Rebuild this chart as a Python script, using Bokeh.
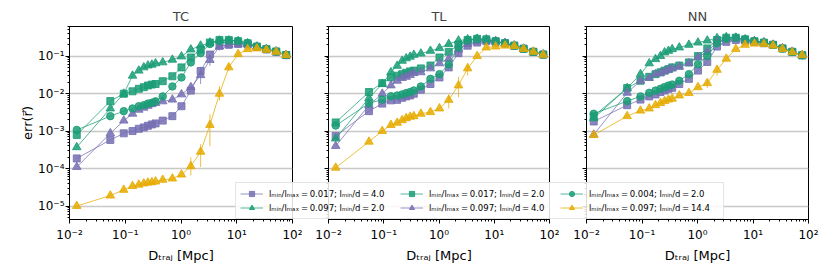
from bokeh.plotting import figure
from bokeh.models import (Range1d, FixedTicker, CustomJSTickFormatter, Legend, LegendItem,
                          ColumnDataSource, GridBox, Spacer)
from bokeh.embed import file_html
from bokeh.resources import INLINE

# ---------------- data ----------------
D_TRAJ = [0.0135, 0.054, 0.094, 0.135, 0.175, 0.215, 0.255, 0.30, 0.35, 0.47, 0.70, 1.02,
          1.5, 2.25, 3.3, 4.9, 7.2, 10.6, 15.7, 23, 34, 51, 77]

PANEL_TITLES = ["TC", "TL", "NN"]

SERIES_KEYS = ["psq", "gtri", "gsq", "ptri", "gcirc", "ytri"]
SERIES_LABELS = [
    "lₘᵢₙ/lₘₐₓ\u2009=\u20090.017; lₘᵢₙ/d\u2009=\u20094.0",
    "lₘᵢₙ/lₘₐₓ\u2009=\u20090.097; lₘᵢₙ/d\u2009=\u20092.0",
    "lₘᵢₙ/lₘₐₓ\u2009=\u20090.017; lₘᵢₙ/d\u2009=\u20092.0",
    "lₘᵢₙ/lₘₐₓ\u2009=\u20090.097; lₘᵢₙ/d\u2009=\u20094.0",
    "lₘᵢₙ/lₘₐₓ\u2009=\u20090.004; lₘᵢₙ/d\u2009=\u20092.0",
    "lₘᵢₙ/lₘₐₓ\u2009=\u20090.097; lₘᵢₙ/d\u2009=\u200914.4",
]
Y_LABEL = "err(r\u20d7)"
X_LABEL = "D\u209c\u1d63\u2090\u2c7c [Mpc]"

TC_PSQ = [1.86e-4, 5.8e-4, 8.7e-4, 1.0e-3, 1.15e-3, 1.25e-3, 1.38e-3, 1.5e-3, 1.6e-3, 1.9e-3, 2.5e-3, 4.6e-3,
          0.012, 0.040, 0.11, 0.19, 0.20, 0.21, 0.205, 0.175, 0.15, 0.13, 0.106]
TC_GTRI = [3.7e-4, 4.0e-3, 9.9e-3, 0.030, 0.041, 0.050, 0.056, 0.059, 0.064, 0.068, 0.080, 0.098,
           0.15, 0.19, 0.23, 0.26, 0.26, 0.25, 0.22, 0.18, 0.155, 0.133, 0.107]
TC_GSQ = [7.9e-4, 6.3e-3, 9.9e-3, 0.0115, 0.0134, 0.0148, 0.0164, 0.0174, 0.018, 0.0214, 0.029, 0.050,
          0.092, 0.15, 0.23, 0.27, 0.27, 0.25, 0.22, 0.18, 0.155, 0.133, 0.107]
TC_PTRI = [1.1e-4, 8.7e-4, 1.9e-3, 2.9e-3, 3.7e-3, 4.2e-3, 4.7e-3, 5.2e-3, 5.6e-3, 6.2e-3, 6.9e-3, 9.5e-3,
           0.0148, 0.031, 0.079, 0.18, 0.20, 0.21, 0.205, 0.175, 0.15, 0.13, 0.106]
TC_GCIRC = [1.07e-3, 2.5e-3, 3.4e-3, 4.0e-3, 4.6e-3, 4.9e-3, 5.4e-3, 5.7e-3, 6.2e-3, 8.4e-3, 0.0155, 0.027,
            0.068, 0.12, 0.21, 0.25, 0.26, 0.25, 0.22, 0.18, 0.155, 0.133, 0.107]
TC_YTRI = [1.0e-5, 1.9e-5, 2.7e-5, 3.4e-5, 3.7e-5, 4.0e-5, 4.2e-5, 4.3e-5, 4.5e-5, 5.0e-5, 5.4e-5, 6.9e-5,
           1.15e-4, 2.8e-4, 1.45e-3, 9.9e-3, 0.050, 0.113, 0.153, 0.16, 0.147, 0.13, 0.106]

TL_PSQ = [7.4e-4, 3.4e-3, 5.4e-3, 6.6e-3, 6.8e-3, 7.7e-3, 8.4e-3, 8.9e-3, 9.9e-3, 0.0127, 0.018, 0.027,
          0.05, 0.12, 0.19, 0.23, 0.25, 0.24, 0.22, 0.19, 0.157, 0.13, 0.11]
TL_GTRI = [6.3e-4, 7.6e-3, 0.018, 0.037, 0.055, 0.075, 0.087, 0.096, 0.108, 0.117, 0.138, 0.163,
           0.21, 0.26, 0.28, 0.29, 0.28, 0.25, 0.22, 0.19, 0.157, 0.13, 0.11]
TL_GSQ = [1.7e-3, 0.011, 0.019, 0.027, 0.030, 0.033, 0.036, 0.039, 0.041, 0.047, 0.056, 0.092,
          0.13, 0.20, 0.27, 0.29, 0.28, 0.25, 0.22, 0.19, 0.157, 0.13, 0.11]
TL_PTRI = [4.0e-4, 4.9e-3, 9.9e-3, 0.0165, 0.022, 0.026, 0.028, 0.031, 0.035, 0.037, 0.047, 0.064,
           0.085, 0.15, 0.21, 0.25, 0.26, 0.25, 0.22, 0.19, 0.157, 0.13, 0.11]
TL_GCIRC = [1.4e-3, 5.5e-3, 6.9e-3, 8.5e-3, 8.9e-3, 9.5e-3, 0.0103, 0.011, 0.0121, 0.0155, 0.0247, 0.033,
            0.06, 0.17, 0.26, 0.28, 0.27, 0.25, 0.22, 0.19, 0.157, 0.13, 0.11]
TL_YTRI = [1.05e-4, 5.2e-4, 1.0e-3, 1.45e-3, 1.66e-3, 1.95e-3, 2.2e-3, 2.4e-3, 2.5e-3, 2.9e-3, 3.2e-3, 4.0e-3,
           6.8e-3, 0.0165, 0.047, 0.10, 0.17, 0.18, 0.19, 0.185, 0.155, 0.13, 0.108]

NN_PSQ = [1.8e-3, 4.9e-3, 6.9e-3, 8.4e-3, 9.5e-3, 0.011, 0.0121, 0.0134, 0.0143, 0.018, 0.0247, 0.041,
          0.07, 0.18, 0.24, 0.27, 0.26, 0.24, 0.22, 0.20, 0.16, 0.13, 0.105]
NN_GTRI = [2.2e-3, 0.014, 0.033, 0.064, 0.083, 0.10, 0.125, 0.138, 0.153, 0.17, 0.20, 0.23,
           0.26, 0.30, 0.32, 0.31, 0.28, 0.25, 0.23, 0.20, 0.16, 0.13, 0.105]
NN_GSQ = [2.5e-3, 0.014, 0.022, 0.028, 0.033, 0.037, 0.041, 0.045, 0.050, 0.056, 0.068, 0.10,
          0.16, 0.27, 0.31, 0.31, 0.28, 0.25, 0.23, 0.20, 0.16, 0.13, 0.105]
NN_PTRI = [8.0e-4, 0.0105, 0.022, 0.026, 0.033, 0.035, 0.039, 0.043, 0.047, 0.052, 0.064, 0.092,
           0.13, 0.24, 0.28, 0.29, 0.27, 0.25, 0.23, 0.20, 0.16, 0.13, 0.105]
NN_GCIRC = [2.9e-3, 6.3e-3, 8.4e-3, 0.0105, 0.012, 0.0134, 0.0149, 0.0164, 0.0174, 0.022, 0.033, 0.061,
            0.10, 0.22, 0.29, 0.31, 0.28, 0.25, 0.23, 0.20, 0.16, 0.13, 0.105]
NN_YTRI = [7.8e-4, 2.5e-3, 3.5e-3, 4.0e-3, 4.9e-3, 5.6e-3, 6.3e-3, 6.9e-3, 7.3e-3, 8.9e-3, 0.0103, 0.0148,
           0.019, 0.043, 0.085, 0.155, 0.20, 0.215, 0.21, 0.19, 0.155, 0.127, 0.106]

# visible error bars: (series key, index into D_TRAJ, low, high)
TC_ERR = [("ytri", 12, 6.5e-5, 2.0e-4), ("ytri", 13, 1.1e-4, 4.5e-4), ("ytri", 14, 4.0e-4, 2.8e-3),
          ("ytri", 15, 6.5e-3, 0.016), ("ytri", 16, 0.040, 0.062), ("psq", 13, 0.018, 0.052),
          ("ptri", 14, 0.055, 0.10), ("ptri", 15, 0.14, 0.22)]
TL_ERR = [("ytri", 12, 4.0e-3, 9.5e-3), ("ytri", 13, 8.0e-3, 0.028), ("ytri", 14, 0.030, 0.065),
          ("ptri", 13, 0.10, 0.19), ("psq", 12, 0.040, 0.060)]
NN_ERR = [("ytri", 12, 0.014, 0.024), ("ytri", 13, 0.030, 0.055)]

PANEL_DATA = {
    "TC": dict(psq=TC_PSQ, gtri=TC_GTRI, gsq=TC_GSQ, ptri=TC_PTRI, gcirc=TC_GCIRC, ytri=TC_YTRI),
    "TL": dict(psq=TL_PSQ, gtri=TL_GTRI, gsq=TL_GSQ, ptri=TL_PTRI, gcirc=TL_GCIRC, ytri=TL_YTRI),
    "NN": dict(psq=NN_PSQ, gtri=NN_GTRI, gsq=NN_GSQ, ptri=NN_PTRI, gcirc=NN_GCIRC, ytri=NN_YTRI),
}
PANEL_ERR = {"TC": TC_ERR, "TL": TL_ERR, "NN": NN_ERR}

# ---------------- style ----------------
PURPLE, GREEN, YELLOW = "#7570b3", "#1b9e77", "#e6ab02"
STYLE = {
    "psq": (PURPLE, "square", 7),
    "gtri": (GREEN, "triangle", 8.5),
    "gsq": (GREEN, "square", 7),
    "ptri": (PURPLE, "triangle", 8.5),
    "gcirc": (GREEN, "circle", 7.5),
    "ytri": (YELLOW, "triangle", 8.5),
}
FONT = "DejaVu Sans"

Y_LO, Y_HI = 10 ** -5.36, 10 ** -0.21
X_LO, X_HI = 1e-2, 1e2
Y_MAJOR = [1e-5, 1e-4, 1e-3, 1e-2, 1e-1]
X_MAJOR = [1e-2, 1e-1, 1e0, 1e1, 1e2]
Y_MINOR = [m * 10.0 ** e for e in range(-6, 1) for m in range(2, 10) if Y_LO <= m * 10.0 ** e <= Y_HI]
X_MINOR = [m * 10.0 ** e for e in range(-2, 2) for m in range(2, 10)]

SUP_JS = """
const sup = {"-":"\u207b","0":"\u2070","1":"\u00b9","2":"\u00b2","3":"\u00b3","4":"\u2074",
             "5":"\u2075","6":"\u2076","7":"\u2077","8":"\u2078","9":"\u2079"};
const e = Math.round(Math.log10(tick));
return "10" + String(e).split("").map(c => sup[c]).join("");
"""

H = 265
FRAME_TOP, FRAME_BOTTOM = 26, 44
LEFT_PAD = 10
widths = [292, 257, 261]
borders_left = [59, 26, 27]
borders_right = [10, 10, 12]

figs = []
for i, title in enumerate(PANEL_TITLES):
    p = figure(width=widths[i], height=H, x_axis_type="log", y_axis_type="log",
               x_range=Range1d(X_LO, X_HI), y_range=Range1d(Y_LO, Y_HI),
               output_backend="svg", toolbar_location=None,
               min_border_left=borders_left[i], min_border_right=borders_right[i],
               min_border_top=FRAME_TOP, min_border_bottom=FRAME_BOTTOM)
    p.title.text = title
    p.title.align = "center"
    p.title.text_font = FONT
    p.title.text_font_size = "13px"
    p.title.text_font_style = "normal"
    p.title.standoff = 6
    p.outline_line_color = "black"
    p.outline_line_width = 1
    p.background_fill_color = "white"
    p.border_fill_color = "white"
    p.xgrid.visible = False
    p.ygrid.grid_line_color = "#c8c8c8"
    p.ygrid.grid_line_width = 1.3

    p.xaxis.ticker = FixedTicker(ticks=X_MAJOR, minor_ticks=X_MINOR)
    p.yaxis.ticker = FixedTicker(ticks=Y_MAJOR, minor_ticks=Y_MINOR)
    p.xaxis.formatter = CustomJSTickFormatter(code=SUP_JS)
    if i == 0:
        p.yaxis.formatter = CustomJSTickFormatter(code=SUP_JS)
        p.yaxis.axis_label = Y_LABEL
    else:
        p.yaxis.formatter = CustomJSTickFormatter(code="return '';")
    p.xaxis.axis_label = X_LABEL
    for ax in (p.xaxis[0], p.yaxis[0]):
        ax.axis_line_color = "black"
        ax.major_tick_line_color = "black"
        ax.minor_tick_line_color = "black"
        ax.major_tick_in = 0
        ax.major_tick_out = 4
        ax.minor_tick_in = 0
        ax.minor_tick_out = 2
        ax.major_label_text_font = FONT
        ax.major_label_text_font_size = "12px"
        ax.major_label_text_color = "black"
        ax.axis_label_text_font = FONT
        ax.axis_label_text_font_size = "13px"
        ax.axis_label_text_font_style = "normal"
        ax.axis_label_text_color = "black"
    p.xaxis.major_label_standoff = 4
    p.xaxis.axis_label_standoff = 3
    p.yaxis.major_label_standoff = 1
    p.yaxis.axis_label_standoff = 0

    data = PANEL_DATA[title]
    errs = PANEL_ERR[title]
    for key in SERIES_KEYS:
        color, marker, size = STYLE[key]
        src = ColumnDataSource(dict(x=D_TRAJ, y=data[key]))
        p.line("x", "y", source=src, line_color=color, line_width=1, line_alpha=0.75)
        ex = [D_TRAJ[e[1]] for e in errs if e[0] == key]
        elo = [e[2] for e in errs if e[0] == key]
        ehi = [e[3] for e in errs if e[0] == key]
        if ex:
            esrc = ColumnDataSource(dict(x=ex, lo=elo, hi=ehi))
            p.segment(x0="x", y0="lo", x1="x", y1="hi", source=esrc,
                      line_color=color, line_width=1, line_alpha=0.75)
        p.scatter("x", "y", source=src, marker=marker, size=size,
                  fill_color=color, line_color=color, fill_alpha=0.85, line_alpha=0.85)
    figs.append(p)

# ---------------- legend overlay figure (its frame aligns with the panels' frames) ----------------
pl = figure(width=sum(widths), height=H, x_range=Range1d(0, 1), y_range=Range1d(0, 1),
            x_axis_type=None, y_axis_type=None, output_backend="svg", toolbar_location=None,
            min_border=0)
pl.grid.visible = False
pl.outline_line_color = None
pl.background_fill_color = None
pl.border_fill_color = None
NAN = float("nan")
items = []
for key, label in zip(SERIES_KEYS, SERIES_LABELS):
    color, marker, size = STYLE[key]
    src = ColumnDataSource(dict(x=[NAN], y=[NAN]))
    r1 = pl.line("x", "y", source=src, line_color=color, line_width=1, line_alpha=0.75)
    r2 = pl.scatter("x", "y", source=src, marker=marker, size=size,
                    fill_color=color, line_color=color, fill_alpha=0.85, line_alpha=0.85)
    items.append(LegendItem(label=label, renderers=[r1, r2]))
legend = Legend(items=items, ncols=3, orientation="vertical", location=(166, 0),
                label_text_font=FONT, label_text_font_size="8.5px", label_text_color="black",
                glyph_width=23, glyph_height=13, label_height=13, label_width=130, label_standoff=6,
                spacing=1, padding=4, margin=0,
                border_line_color="#cccccc", border_line_width=1,
                background_fill_color="white", background_fill_alpha=0.85)
pl.add_layout(legend, "center")

spacer = Spacer(width=LEFT_PAD, height=H)
grid = GridBox(children=[(spacer, 0, 0), (figs[0], 0, 1), (figs[1], 0, 2), (figs[2], 0, 3),
                         (pl, 0, 1, 1, 3)])

open("out.html", "w").write(file_html(grid, INLINE))
